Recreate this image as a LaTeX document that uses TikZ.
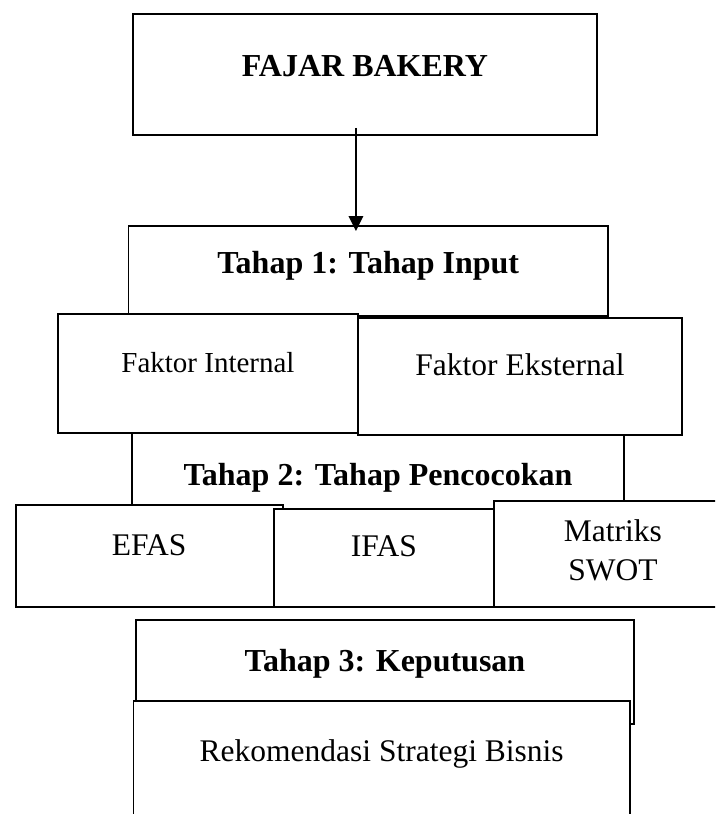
\documentclass[tikz,border=0pt]{standalone}
\usepackage{fontspec}
\setmainfont{Liberation Serif}
\usepackage{tikz}
\usetikzlibrary{arrows.meta}

\begin{document}
\begin{tikzpicture}[x=1pt,y=-1pt,>={Triangle[length=15pt,width=14.5pt]},line width=1.9pt]
  \tikzstyle{stage}=[draw,fill=white,inner sep=0pt,anchor=north west,font=\fontsize{32}{39}\selectfont\bfseries]
  \tikzstyle{item}=[stage,font=\fontsize{31.5}{39}\selectfont]
  \clip (0,0) rectangle (715,814);

  \node[stage,minimum width=464pt,text height=63pt,text depth=58pt]    (bakery)  at (132,13)    {FAJAR BAKERY};
  \node[stage,minimum width=479.5pt,text height=48pt,text depth=42pt]  (tahap1)  at (127.5,225) {Tahap 1: Tahap Input};
  \node[stage,minimum width=492pt,text height=53pt,text depth=23pt]    (tahap2)  at (131,432)   {Tahap 2: Tahap Pencocokan};

  \node[item,minimum width=300pt,text height=59pt,text depth=60pt,font=\fontsize{29}{35}\selectfont] (intern) at (57,313) {Faktor Internal};
  \node[item,minimum width=324pt,text height=58pt,text depth=59pt]     (ekstern) at (357,317)   {Faktor Eksternal};

  \node[item,minimum width=267pt,text height=51pt,text depth=51pt]     (efas)    at (14.7,504)  {EFAS};
  \node[item,minimum width=220pt,text height=48pt,text depth=50pt]     (ifas)    at (273,508)   {IFAS};
  \node[item,minimum width=238pt,minimum height=106pt,text height=80pt,text depth=26pt,align=center] (swot) at (493,500) {Matriks\\SWOT};

  \node[stage,minimum width=498pt,text height=52pt,text depth=52pt]    (tahap3)  at (135,619)   {Tahap 3: Keputusan};
  \node[item,minimum width=496.5pt,text height=61pt,text depth=79pt]   (rekom)   at (132.5,700) {Rekomendasi Strategi Bisnis};

  \draw[->,shorten <=-8pt,shorten >=-6pt] ([xshift=-9pt]bakery.south) -- ([xshift=-12.25pt]tahap1.north);
\end{tikzpicture}
\end{document}
